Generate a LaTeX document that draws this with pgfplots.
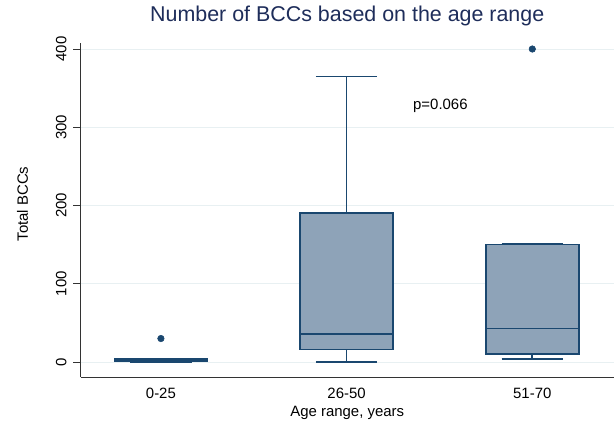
\documentclass[border=0pt]{standalone}
\usepackage{pgfplots}
\pgfplotsset{compat=1.18}
\usepgfplotslibrary{statistics}
\usepackage{fontspec}
\setmainfont{Liberation Sans}
\definecolor{navy}{RGB}{26,71,111}
\definecolor{boxfill}{RGB}{142,163,184}
\definecolor{gridc}{RGB}{232,240,242}
\definecolor{titlec}{RGB}{30,45,90}
\begin{document}
\begin{tikzpicture}
\path[use as bounding box] (0,0) rectangle (614bp,423bp);
\begin{axis}[
 at={(80.5bp,46bp)}, anchor=south west,
 scale only axis, width=533.5bp, height=334bp,
 xmin=0.567, xmax=3.44, ymin=-19.17, ymax=407.7,
 axis x line*=bottom, axis y line*=left,
 axis line style={black!80, line width=0.8pt, -},
 xtick={1,2,3}, xticklabels={0-25,26-50,51-70},
 ytick={0,100,200,300,400},
 ymajorgrids, grid style={gridc, line width=0.9pt},
 tick style={black!80, line width=0.8pt},
 xtick style={draw=none},
 major tick length=7bp,
 tick align=outside,
 yticklabel shift=3.5bp,
 yticklabel style={rotate=90, anchor=south, font=\fontsize{15}{18}\selectfont},
 xticklabel style={anchor=base, yshift=-14.5bp, font=\fontsize{15}{18}\selectfont},
 xlabel={Age range, years}, ylabel={Total BCCs},
 xlabel style={at={(axis description cs:0.5,0)}, anchor=base, yshift=-39.5bp, font=\fontsize{15}{18}\selectfont},
 ylabel style={at={(axis description cs:-0.1087,0.518)}, anchor=center, font=\fontsize{15}{18}\selectfont},
 title={Number of BCCs based on the age range},
 title style={at={(axis description cs:0.5,1)}, anchor=base, yshift=16bp, font=\fontsize{21.5}{25}\selectfont, text=titlec},
 /pgf/number format/assume math mode=true,
 clip=false,
 boxplot/draw direction=y,
 boxplot/box extend=0.5, boxplot/whisker extend=0.33,
]
\addplot[boxplot prepared={draw position=1, lower whisker=0, lower quartile=0.5, median=1, upper quartile=4, upper whisker=4.2},
  draw=navy, fill=boxfill, line width=1.7bp, mark=*, mark options={fill=navy, draw=navy, line width=0.5pt, mark size=3.3pt}]
  coordinates {(1,30)};
\addplot[boxplot prepared={draw position=2, lower whisker=0, lower quartile=16, median=36, upper quartile=190, upper whisker=365},
  draw=navy, fill=boxfill, line width=1.7bp]
  coordinates {};
\addplot[boxplot prepared={draw position=3, lower whisker=4, lower quartile=10, median=43, upper quartile=150, upper whisker=150.5},
  draw=navy, fill=boxfill, line width=1.7bp, mark=*, mark options={fill=navy, draw=navy, line width=0.5pt, mark size=3.3pt}]
  coordinates {(3,400)};
\node[font=\fontsize{15}{18}\selectfont, anchor=center] at (axis cs:2.505,327) {p=0.066};
\end{axis}
\end{tikzpicture}
\end{document}
